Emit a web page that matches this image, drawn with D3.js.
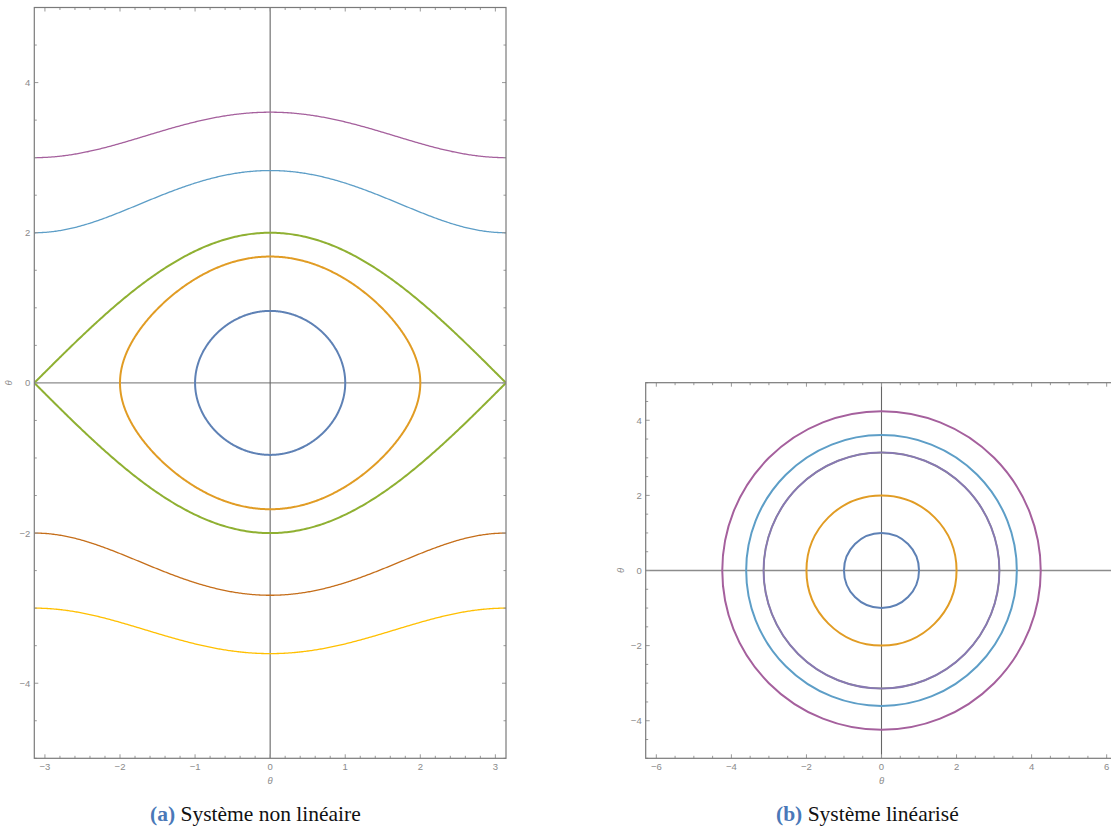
<!DOCTYPE html>
<html><head><meta charset="utf-8">
<script src="https://cdn.jsdelivr.net/npm/d3@7"></script>
<style>
html,body{margin:0;padding:0;background:#fff;}
svg{display:block;}
</style></head>
<body>
<svg id="chart" width="1111" height="828"></svg>
<script>
// ---------------- DATA ----------------
// (a) non-linear pendulum: closed orbits given by their amplitude theta0 (omega = 0 there)
const closedAmplitudes = [1, 2, Math.PI];
const closedColors = ["#5E81B5", "#E19C24", "#8FB032"];
// open (rotating) orbits given by their omega value at theta = ±pi
const openOmegaAtPi = [2, 3, -2, -3];
const openColors = ["#5D9EC7", "#A5609D", "#C56E1A", "#FFBF00"];
// (b) linearised system: circles, radius
const linRadii = [1, 2, Math.PI, 3.606, 4.243, Math.PI];
const linColors = ["#5E81B5", "#E19C24", "#8FB032", "#5D9EC7", "#A5609D", "#8778B3"];
const linWidths = [2, 2, 1.5, 2, 2, 2];
// ticks
const xTicksA = [-3, -2, -1, 0, 1, 2, 3];
const yTicks = [-4, -2, 0, 2, 4];
const xTicksB = [-6, -4, -2, 0, 2, 4, 6];
const captions = [
  {tag: "(a)", text: " Système non linéaire"},
  {tag: "(b)", text: " Système linéarisé"}
];

// ---------------- DRAW ----------------
const svg = d3.select("#chart");
const FRAME = "#7a7a7a", AXIS = "#666", LABEL = "#8a8a8a";

function panel(opts) {
  const {x, y, id, xTicks, minorX, minorY} = opts;
  const g = svg.append("g");
  const [x0, x1] = x.range(), [y0, y1] = y.range(); // y0 bottom, y1 top
  g.append("clipPath").attr("id", id).append("rect")
    .attr("x", x0).attr("y", y1).attr("width", x1 - x0).attr("height", y0 - y1);
  const plot = g.append("g").attr("clip-path", `url(#${id})`);
  // zero axes
  plot.append("line").attr("x1", x0).attr("x2", x1).attr("y1", y(0)).attr("y2", y(0))
    .attr("stroke", "#8c8c8c").attr("stroke-width", 1.3);
  plot.append("line").attr("x1", x(0)).attr("x2", x(0)).attr("y1", y0).attr("y2", y1)
    .attr("stroke", AXIS).attr("stroke-width", 1.1);

  // ticks
  const [dx0, dx1] = x.domain(), [dy0, dy1] = y.domain();
  const tg = g.append("g").attr("stroke", "#999").attr("stroke-width", 1);
  const mx = d3.range(Math.ceil(dx0 / minorX) * minorX, dx1 + 1e-9, minorX);
  const my = d3.range(Math.ceil(dy0 / minorY) * minorY, dy1 + 1e-9, minorY);
  const isMajor = (v, arr) => arr.some(t => Math.abs(t - v) < 1e-6);
  mx.forEach(v => {
    const L = isMajor(v, xTicks) ? 4 : 2.5;
    tg.append("line").attr("x1", x(v)).attr("x2", x(v)).attr("y1", y0).attr("y2", y0 - L);
    tg.append("line").attr("x1", x(v)).attr("x2", x(v)).attr("y1", y1).attr("y2", y1 + L);
  });
  my.forEach(v => {
    const L = isMajor(v, yTicks) ? 4 : 2.5;
    tg.append("line").attr("y1", y(v)).attr("y2", y(v)).attr("x1", x0).attr("x2", x0 + L);
    tg.append("line").attr("y1", y(v)).attr("y2", y(v)).attr("x1", x1).attr("x2", x1 - L);
  });
  // frame
  g.append("rect").attr("x", x0).attr("y", y1).attr("width", x1 - x0).attr("height", y0 - y1)
    .attr("fill", "none").attr("stroke", FRAME).attr("stroke-width", 1.2);

  // tick labels
  const fmt = v => v < 0 ? "\u2212" + Math.abs(v) : String(v);
  const lab = g.append("g").attr("fill", LABEL).attr("font-family", "'Liberation Sans', Arial, sans-serif").attr("font-size", 9.5);
  xTicks.forEach(v => lab.append("text").attr("x", x(v)).attr("y", y0 + 12).attr("text-anchor", "middle").text(fmt(v)));
  yTicks.forEach(v => lab.append("text").attr("x", x0 - 4).attr("y", y(v) + 3.5).attr("text-anchor", "end").text(fmt(v)));
  lab.append("text").attr("x", x(0)).attr("y", y0 + 26).attr("text-anchor", "middle").attr("font-style", "italic").text("θ");
  lab.append("text").attr("transform", `translate(${x0 - 22},${y(0)}) rotate(-90)`).attr("text-anchor", "middle")
    .attr("font-style", "italic").text("θ");
  return plot;
}

// ---- panel (a)
const xA = d3.scaleLinear().domain([-Math.PI, Math.PI]).range([34.3, 506]);
const yA = d3.scaleLinear().domain([-5, 5]).range([758.3, 7.5]);
const plotA = panel({x: xA, y: yA, id: "clipA", xTicks: xTicksA, minorX: 0.2, minorY: 0.5});
const lineA = d3.line().x(d => xA(d[0])).y(d => yA(d[1]));

// open orbits: energy conservation  w^2/2 - cos(t) = const
openOmegaAtPi.forEach((w0, i) => {
  const pts = d3.range(-Math.PI, Math.PI + 1e-9, Math.PI / 200).map(t => {
    const w2 = w0 * w0 + 2 * (Math.cos(t) - Math.cos(Math.PI));
    return [t, Math.sign(w0) * Math.sqrt(Math.max(0, w2))];
  });
  plotA.append("path").attr("d", lineA(pts)).attr("fill", "none")
    .attr("stroke", openColors[i]).attr("stroke-width", 1.3);
});
// closed orbits
closedAmplitudes.forEach((a, i) => {
  const n = 400;
  const ts = d3.range(n + 1).map(k => -a * Math.cos(Math.PI * k / n));
  const upper = ts.map(t => [t, Math.sqrt(Math.max(0, 2 * (Math.cos(t) - Math.cos(a))))]);
  const lower = ts.slice().reverse().map(t => [t, -Math.sqrt(Math.max(0, 2 * (Math.cos(t) - Math.cos(a))))]);
  plotA.append("path").attr("d", lineA(upper.concat(lower)) + "Z").attr("fill", "none")
    .attr("stroke", closedColors[i]).attr("stroke-width", 2);
});

// ---- panel (b)
const xB = d3.scaleLinear().domain([-2 * Math.PI, 2 * Math.PI]).range([645.7, 1117.3]);
const yB = d3.scaleLinear().domain([-5, 5]).range([758.3, 382.7]);
const plotB = panel({x: xB, y: yB, id: "clipB", xTicks: xTicksB, minorX: 0.5, minorY: 0.5});
linRadii.forEach((r, i) => {
  plotB.append("ellipse").attr("cx", xB(0)).attr("cy", yB(0))
    .attr("rx", xB(r) - xB(0)).attr("ry", yB(0) - yB(r))
    .attr("fill", "none").attr("stroke", linColors[i]).attr("stroke-width", linWidths[i]);
});

// ---- captions
const capX = [150, 776];
captions.forEach((c, i) => {
  const t = svg.append("text").attr("x", capX[i]).attr("y", 821)
    .attr("font-family", "'Liberation Serif', 'Times New Roman', serif").attr("font-size", 21.5).attr("fill", "#111");
  t.append("tspan").attr("font-weight", "bold").attr("fill", "#4a78b8").text(c.tag);
  t.append("tspan").text(c.text);
});
</script>
</body></html>
